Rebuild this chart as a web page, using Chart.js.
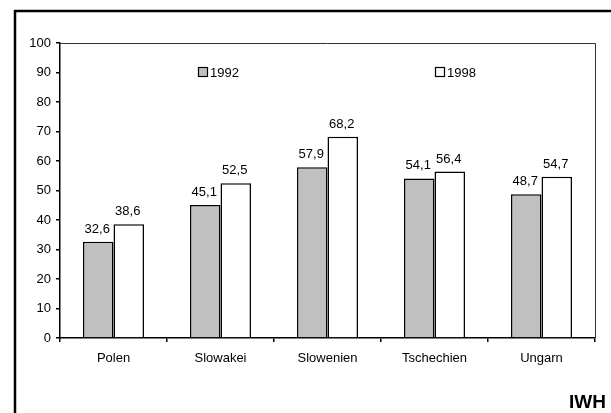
<!DOCTYPE html>
<html>
<head>
<meta charset="utf-8">
<script src="https://cdn.jsdelivr.net/npm/chart.js@4"></script>
<style>
  html, body { margin: 0; padding: 0; background: #fff; }
  #wrap { width: 611px; height: 413px; position: relative; }
</style>
</head>
<body>
<div id="wrap"><canvas id="chart" width="611" height="413"></canvas></div>
<script>
// Werte
const categories = ['Polen', 'Slowakei', 'Slowenien', 'Tschechien', 'Ungarn'];
const values1992 = [32.6, 45.1, 57.9, 54.1, 48.7];
const values1998 = [38.6, 52.5, 68.2, 56.4, 54.7];
const seriesLabels = ['1992', '1998'];
const yTicks = [0, 10, 20, 30, 40, 50, 60, 70, 80, 90, 100];

const FONT = 'Liberation Sans, Arial, sans-serif';

function fmt(v) {
    return v.toFixed(1).replace('.', ',');
}

// Rahmen, Plotbox, Legende, Werte, Quelle
const decorations = {
    id: 'decorations',
    beforeDraw(chart) {
        const c = chart.ctx;
        c.save();
        c.fillStyle = '#fff';
        c.fillRect(0, 0, chart.width, chart.height);
        c.strokeStyle = '#000';
        c.lineWidth = 2.5;
        c.strokeRect(15, 11, chart.width + 20, chart.height + 20);
        c.restore();
    },
    afterDraw(chart) {
        const c = chart.ctx;
        const a = chart.chartArea;
        c.save();
        c.strokeStyle = '#333';
        c.lineWidth = 1;
        c.beginPath();
        c.moveTo(a.left, a.top + 0.5);
        c.lineTo(a.right + 0.5, a.top + 0.5);
        c.lineTo(a.right + 0.5, a.bottom);
        c.stroke();

        // Legende
        c.font = '13px ' + FONT;
        c.textBaseline = 'middle';
        c.textAlign = 'left';
        const legendPos = [[198, 72], [435, 72]];
        chart.data.datasets.forEach((ds, i) => {
            const [x, y] = legendPos[i];
            c.fillStyle = ds.backgroundColor;
            c.fillRect(x + 0.5, y - 4.5, 9, 9);
            c.strokeStyle = '#000';
            c.lineWidth = 1.2;
            c.strokeRect(x + 0.5, y - 4.5, 9, 9);
            c.fillStyle = '#000';
            c.fillText(ds.label, x + 12, y + 1);
        });

        // Werte über den Balken
        c.textAlign = 'center';
        c.textBaseline = 'alphabetic';
        chart.data.datasets.forEach((ds, i) => {
            chart.getDatasetMeta(i).data.forEach((bar, j) => {
                c.fillText(fmt(ds.data[j]), bar.x - 1, bar.y - 9);
            });
        });

        // Quelle
        c.font = 'bold 19px ' + FONT;
        c.textAlign = 'right';
        c.fillText('IWH', 606, 408);
        c.restore();
    }
};

new Chart(document.getElementById('chart'), {
    type: 'bar',
    data: {
        labels: categories,
        datasets: [
            {
                label: seriesLabels[0],
                data: values1992,
                backgroundColor: '#c0c0c0',
                borderColor: '#000',
                borderWidth: 1.5
            },
            {
                label: seriesLabels[1],
                data: values1998,
                backgroundColor: '#ffffff',
                borderColor: '#000',
                borderWidth: 1.5
            }
        ]
    },
    options: {
        responsive: false,
        animation: false,
        devicePixelRatio: 1,
        layout: { padding: { left: 0, top: 43, right: 16, bottom: 45 } },
        datasets: {
            bar: { categoryPercentage: 0.57, barPercentage: 1.0 }
        },
        plugins: {
            legend: { display: false },
            tooltip: { enabled: false }
        },
        scales: {
            x: {
                grid: {
                    offset: true,
                    drawOnChartArea: false,
                    tickLength: 4,
                    color: '#000',
                    lineWidth: 1.5
                },
                border: { color: '#000', width: 1.5 },
                ticks: {
                    color: '#000',
                    font: { family: FONT, size: 13 },
                    padding: 9,
                    maxRotation: 0
                },
                afterFit(scale) { scale.height = 30; }
            },
            y: {
                min: 0,
                max: 100,
                afterBuildTicks(scale) {
                    scale.ticks = yTicks.map(v => ({ value: v }));
                },
                grid: {
                    drawOnChartArea: false,
                    tickLength: 4,
                    color: '#000',
                    lineWidth: 1.5
                },
                border: { color: '#000', width: 1.5 },
                ticks: {
                    color: '#000',
                    font: { family: FONT, size: 13 },
                    padding: 5
                },
                afterFit(scale) { scale.width = 60; }
            }
        }
    },
    plugins: [decorations]
});
</script>
</body>
</html>
